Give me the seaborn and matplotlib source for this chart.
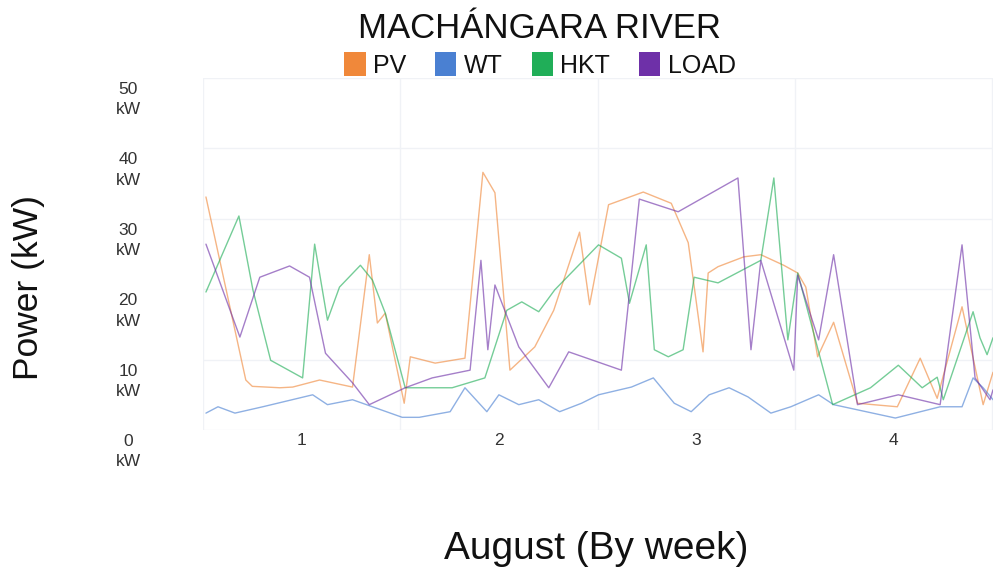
import numpy as np
import pandas as pd
import matplotlib
matplotlib.use("Agg")
import matplotlib.pyplot as plt
import matplotlib.transforms as mtransforms
import seaborn as sns
from matplotlib.patches import Patch

# ---- data: generation / demand over August, x in weeks ----
pv_week = [0.515, 0.717, 0.750, 0.890, 0.955, 1.091, 1.258, 1.343, 1.384, 1.424, 1.520, 1.551,
           1.677, 1.828, 1.919, 1.980, 2.056, 2.182, 2.278, 2.409, 2.460, 2.556, 2.732,
           2.874, 2.960, 3.035, 3.061, 3.111, 3.242, 3.328, 3.444, 3.515, 3.556, 3.616,
           3.697, 3.818, 4.020, 4.136, 4.222, 4.348, 4.455, 4.505]
pv_kw = [33.1, 7.1, 6.2, 6.0, 6.1, 7.1, 6.1, 24.9, 15.2, 16.6, 3.8, 10.4,
         9.5, 10.2, 36.6, 33.7, 8.5, 11.8, 17.0, 28.1, 17.8, 32.0, 33.8,
         32.2, 26.6, 11.1, 22.3, 23.2, 24.6, 24.9, 23.4, 22.3, 20.3, 10.4,
         15.3, 3.8, 3.3, 10.2, 4.5, 17.5, 3.6, 8.2]

wt_week = [0.515, 0.576, 0.662, 0.803, 1.056, 1.131, 1.258, 1.359, 1.510, 1.596, 1.753,
           1.828, 1.939, 2.000, 2.101, 2.202, 2.308, 2.419, 2.505, 2.672, 2.783, 2.889,
           2.975, 3.066, 3.167, 3.263, 3.379, 3.480, 3.621, 3.697, 4.010, 4.237, 4.348,
           4.404, 4.455, 4.505]
wt_kw = [2.4, 3.3, 2.4, 3.3, 5.0, 3.6, 4.3, 3.3, 1.8, 1.8, 2.6,
         6.0, 2.6, 5.0, 3.6, 4.3, 2.6, 3.8, 5.0, 6.1, 7.4, 3.8,
         2.6, 5.0, 6.0, 4.7, 2.4, 3.3, 5.0, 3.6, 1.7, 3.3, 3.3,
         7.4, 6.0, 4.3]

hkt_week = [0.515, 0.682, 0.753, 0.843, 1.005, 1.066, 1.131, 1.192, 1.298, 1.359, 1.424,
            1.525, 1.763, 1.929, 2.040, 2.116, 2.202, 2.283, 2.505, 2.621, 2.662, 2.747,
            2.788, 2.859, 2.934, 2.990, 3.111, 3.328, 3.394, 3.465, 3.515, 3.692, 3.884,
            4.025, 4.146, 4.222, 4.253, 4.404, 4.439, 4.475, 4.505]
hkt_kw = [19.6, 30.4, 19.9, 9.9, 7.4, 26.4, 15.6, 20.3, 23.4, 21.3, 16.6,
          6.0, 6.0, 7.4, 17.0, 18.2, 16.8, 19.9, 26.3, 24.4, 18.0, 26.3,
          11.4, 10.4, 11.4, 21.7, 20.9, 24.1, 35.8, 12.8, 22.3, 3.6, 6.0,
          9.2, 6.0, 7.5, 4.3, 16.8, 13.1, 10.7, 13.1]

load_week = [0.515, 0.687, 0.788, 0.939, 1.040, 1.121, 1.258, 1.343, 1.525, 1.662, 1.854,
             1.909, 1.944, 1.980, 2.101, 2.253, 2.354, 2.621, 2.712, 2.909, 3.212, 3.278,
             3.328, 3.495, 3.515, 3.621, 3.697, 3.818, 4.025, 4.237, 4.348, 4.414, 4.490,
             4.505]
load_kw = [26.4, 13.2, 21.7, 23.3, 21.7, 10.9, 6.7, 3.6, 6.0, 7.4, 8.5,
           24.1, 11.4, 20.6, 11.8, 6.0, 11.1, 8.5, 32.8, 31.0, 35.8, 11.4,
           24.1, 8.5, 22.0, 12.8, 24.9, 3.6, 5.0, 3.6, 26.3, 7.4, 4.3,
           5.7]

series = ["PV", "WT", "HKT", "LOAD"]
colors = {"PV": "#F0883A", "WT": "#4A80D2", "HKT": "#20AE58", "LOAD": "#6E30A8"}

frames = []
for name, xs, ys in [("PV", pv_week, pv_kw), ("WT", wt_week, wt_kw),
                     ("HKT", hkt_week, hkt_kw), ("LOAD", load_week, load_kw)]:
    frames.append(pd.DataFrame({"week": xs, "power": ys, "source": name}))
df = pd.concat(frames, ignore_index=True)

week_ticks = [1, 2, 3, 4]
week_bounds = [0.5, 1.5, 2.5, 3.5, 4.5]
power_ticks = [0, 10, 20, 30, 40, 50]

# ---- figure ----
sns.set_theme(style="white")
plt.rcParams["font.family"] = ["Liberation Sans", "DejaVu Sans"]

W, H = 993, 574
fig = plt.figure(figsize=(W / 100, H / 100), dpi=100)
ax = fig.add_axes([203 / W, 1 - 430 / H, (993 - 203) / W, 352 / H])

sns.lineplot(data=df, x="week", y="power", hue="source", hue_order=series,
             palette=colors, estimator=None, sort=False, linewidth=1.0,
             alpha=0.62, legend=False, ax=ax)

ax.set_xlim(0.515, 4.505)
ax.set_ylim(0, 50)

for s in ax.spines.values():
    s.set_visible(False)

grid_color = "#F0F2F6"
ax.set_yticks(power_ticks)
ax.set_yticklabels([f"{v}\nkW" for v in power_ticks], ha="center", va="top",
                   multialignment="center", linespacing=1.45)
ax.set_xticks(week_ticks)
ax.set_xticklabels([str(w) for w in week_ticks])
ax.set_xticks(week_bounds, minor=True)
ax.grid(False)
ax.yaxis.grid(True, color=grid_color, linewidth=1.0)
ax.xaxis.grid(True, which="minor", color=grid_color, linewidth=1.0)
ax.set_axisbelow(True)

ax.tick_params(axis="both", which="both", length=0, labelsize=12.5,
               labelcolor="#333333")
ax.tick_params(axis="y", pad=54)
ax.tick_params(axis="x", pad=2)

# two-line y labels hang just below their gridline
shift = mtransforms.ScaledTranslation(0, -4 / 100, fig.dpi_scale_trans)
for lab in ax.get_yticklabels():
    lab.set_transform(lab.get_transform() + shift)

ax.set_xlabel("")
ax.set_ylabel("")
fig.text(29 / W, 1 - 288 / H, "Power (kW)", rotation=90, ha="center",
         va="center", fontsize=25.5, color="#111111")
fig.text(596 / W, 1 - 549 / H, "August (By week)", ha="center", va="center",
         fontsize=28, color="#111111")

fig.text(540 / W, 1 - 28 / H, "MACHÁNGARA RIVER", ha="center", va="center",
         fontsize=25, color="#111111")

handles = [Patch(facecolor=colors[s], edgecolor="none", label=s) for s in series]
fig.legend(handles=handles, loc="center", bbox_to_anchor=(540 / W, 1 - 65 / H),
           ncol=4, frameon=False, fontsize=18, handlelength=0.85,
           handleheight=1.05, handletextpad=0.3, columnspacing=1.15,
           labelcolor="#111111")

fig.savefig("out.png", dpi=100, facecolor="white")
